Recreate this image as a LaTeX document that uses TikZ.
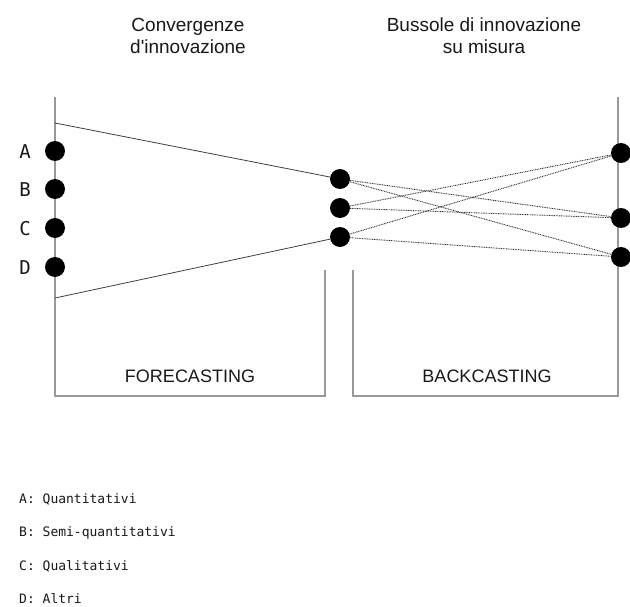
\documentclass[tikz,border=0pt]{standalone}
\usepackage{fontspec}
\setmainfont{Liberation Sans}
\newfontfamily\monof{DejaVu Sans Mono}
\begin{document}
\begin{tikzpicture}[x=1pt,y=-1pt,
  frame/.style={draw=black!40, line width=1.3pt},
  bigdot/.style={circle, fill=black, inner sep=0pt, minimum size=20pt},
  link/.style={draw=black!75, line width=0.8pt},
  dotlink/.style={draw=black!80, line width=0.9pt, dash pattern=on 0.9pt off 0.8pt},
  title/.style={font=\fontsize{19}{22}\selectfont, text=black!90, inner sep=0pt, anchor=base},
  boxlabel/.style={font=\fontsize{18}{20}\selectfont, text=black!90, inner sep=0pt, anchor=base},
  letter/.style={font=\monof\fontsize{19}{20}\selectfont, text=black!90, inner sep=0pt, anchor=base},
  legend/.style={font=\monof\fontsize{13}{15}\selectfont, text=black!90, inner sep=0pt, anchor=base west}
]
\useasboundingbox (0,0) rectangle (630,607);
\fill[white] (0,0) rectangle (630,607);

% frames
\coordinate (LT) at (55,97);
\coordinate (LB) at (55,396);
\coordinate (FR) at (325,396);
\coordinate (FT) at (325,270);
\coordinate (BL) at (353,270);
\coordinate (BB) at (353,396);
\coordinate (RB) at (618,396);
\coordinate (RT) at (618,97);
\draw[frame] (LT) -- (LB) -- (FR) -- (FT);
\draw[frame] (BL) -- (BB) -- (RB) -- (RT);

% titles
\node[title] (t1a) at (188,32) {Convergenze};
\node[title] (t1b) at (188,54) {d\textquotesingle innovazione};
\node[title] (t2a) at (484,32) {Bussole di innovazione};
\node[title] (t2b) at (484,54) {su misura};

\node[boxlabel] (fc) at (190,382) {FORECASTING};
\node[boxlabel] (bc) at (487,382) {BACKCASTING};

% left dots
\node[bigdot] (a) at (55,151) {};
\node[bigdot] (b) at (55,189) {};
\node[bigdot] (c) at (55,228) {};
\node[bigdot] (d) at (55,267) {};
\node[letter] (la) at (25,159) {A};
\node[letter] (lb) at (25,197) {B};
\node[letter] (lc) at (25,236) {C};
\node[letter] (ld) at (25,274) {D};

% middle dots
\node[bigdot] (m1) at (340,179) {};
\node[bigdot] (m2) at (340,208) {};
\node[bigdot] (m3) at (340,237) {};

% right dots
\node[bigdot] (r1) at (621,153) {};
\node[bigdot] (r2) at (621,218) {};
\node[bigdot] (r3) at (621,257) {};

% converging lines
\coordinate (ct) at (55,123);
\coordinate (cb) at (55,298);
\draw[link] (ct) -- (m1);
\draw[link] (cb) -- (m3);

% dotted lines
\draw[dotlink] (m1) -- (r2);
\draw[dotlink] (m1) -- (r3);
\draw[dotlink] (m2) -- (r1);
\draw[dotlink] (m2) -- (r2);
\draw[dotlink] (m3) -- (r1);
\draw[dotlink] (m3) -- (r3);

% legend
\node[legend] (ka) at (19,503) {A: Quantitativi};
\node[legend] (kb) at (19,536) {B: Semi-quantitativi};
\node[legend] (kc) at (19,570) {C: Qualitativi};
\node[legend] (kd) at (19,603) {D: Altri};
\end{tikzpicture}
\end{document}
